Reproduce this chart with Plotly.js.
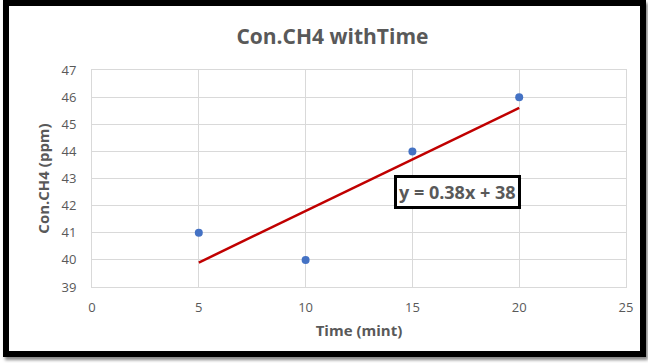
<!DOCTYPE html>
<html>
<head>
<meta charset="utf-8">
<script src="https://cdn.plot.ly/plotly-3.0.1.min.js"></script>
<style>
html,body{margin:0;padding:0;background:#fff;}
#wrap{position:relative;width:648px;height:363px;overflow:hidden;}
#chart{position:absolute;left:0;top:0;width:648px;height:363px;}
#frame{position:absolute;left:3px;top:0px;width:631px;height:345px;border:6px solid #000;pointer-events:none;box-shadow:2px 3px 3px #888;}
</style>
</head>
<body>
<div id="wrap">
<div id="chart"></div>
<div id="frame"></div>
</div>
<script>
const timeMin = [5, 10, 15, 20];
const concCH4 = [41, 40, 44, 46];
const trendSlope = 0.38;
const trendIntercept = 38;
const trendLabel = "y = 0.38x + 38";
const chartTitle = "Con.CH4 withTime";
const xTitle = "Time (mint)";
const yTitle = "Con.CH4 (ppm)";

const trendX = [Math.min(...timeMin), Math.max(...timeMin)];
const trendY = trendX.map(x => trendSlope * x + trendIntercept);

const font = "Open Sans, Liberation Sans, sans-serif";
const gray = "#595959";

const data = [
  {x: trendX, y: trendY, mode: "lines", type: "scatter",
   line: {color: "#C00000", width: 2.5}, hoverinfo: "skip"},
  {x: timeMin, y: concCH4, mode: "markers", type: "scatter",
   marker: {color: "#4472C4", size: 8}}
];

const layout = {
  width: 648, height: 363,
  margin: {l: 92, r: 22, t: 70, b: 76},
  paper_bgcolor: "#fff", plot_bgcolor: "#fff",
  showlegend: false,
  title: {text: "<b>" + chartTitle + "</b>", x: 0.513, xanchor: "center", y: 0.898, yanchor: "middle",
          font: {family: font, size: 21, color: gray}},
  xaxis: {range: [0, 25], dtick: 5, tick0: 0, showgrid: true, gridcolor: "#d9d9d9", gridwidth: 1,
          zeroline: false, showline: true, linecolor: "#d9d9d9", mirror: true,
          ticks: "outside", ticklen: 8, tickcolor: "rgba(0,0,0,0)",
          tickfont: {family: font, size: 13, color: gray},
          title: {text: "<b>" + xTitle + "</b>", standoff: 10, font: {family: font, size: 15, color: gray}}},
  yaxis: {range: [39, 47], dtick: 1, showgrid: true, gridcolor: "#d9d9d9", gridwidth: 1,
          zeroline: false, showline: true, linecolor: "#d9d9d9", mirror: true,
          ticks: "outside", ticklen: 12, tickcolor: "rgba(0,0,0,0)",
          tickfont: {family: font, size: 13, color: gray},
          title: {text: "<b>" + yTitle + "</b>", standoff: 8, font: {family: font, size: 15, color: gray}}},
  annotations: [{
    x: 17.1, y: 42.5, xref: "x", yref: "y", text: "<b>" + trendLabel + "</b>", showarrow: false,
    font: {family: font, size: 18, color: gray},
    bordercolor: "#000", borderwidth: 3, borderpad: 2, bgcolor: "#fff"
  }]
};

Plotly.newPlot("chart", data, layout, {displayModeBar: false, staticPlot: true});
</script>
</body>
</html>
